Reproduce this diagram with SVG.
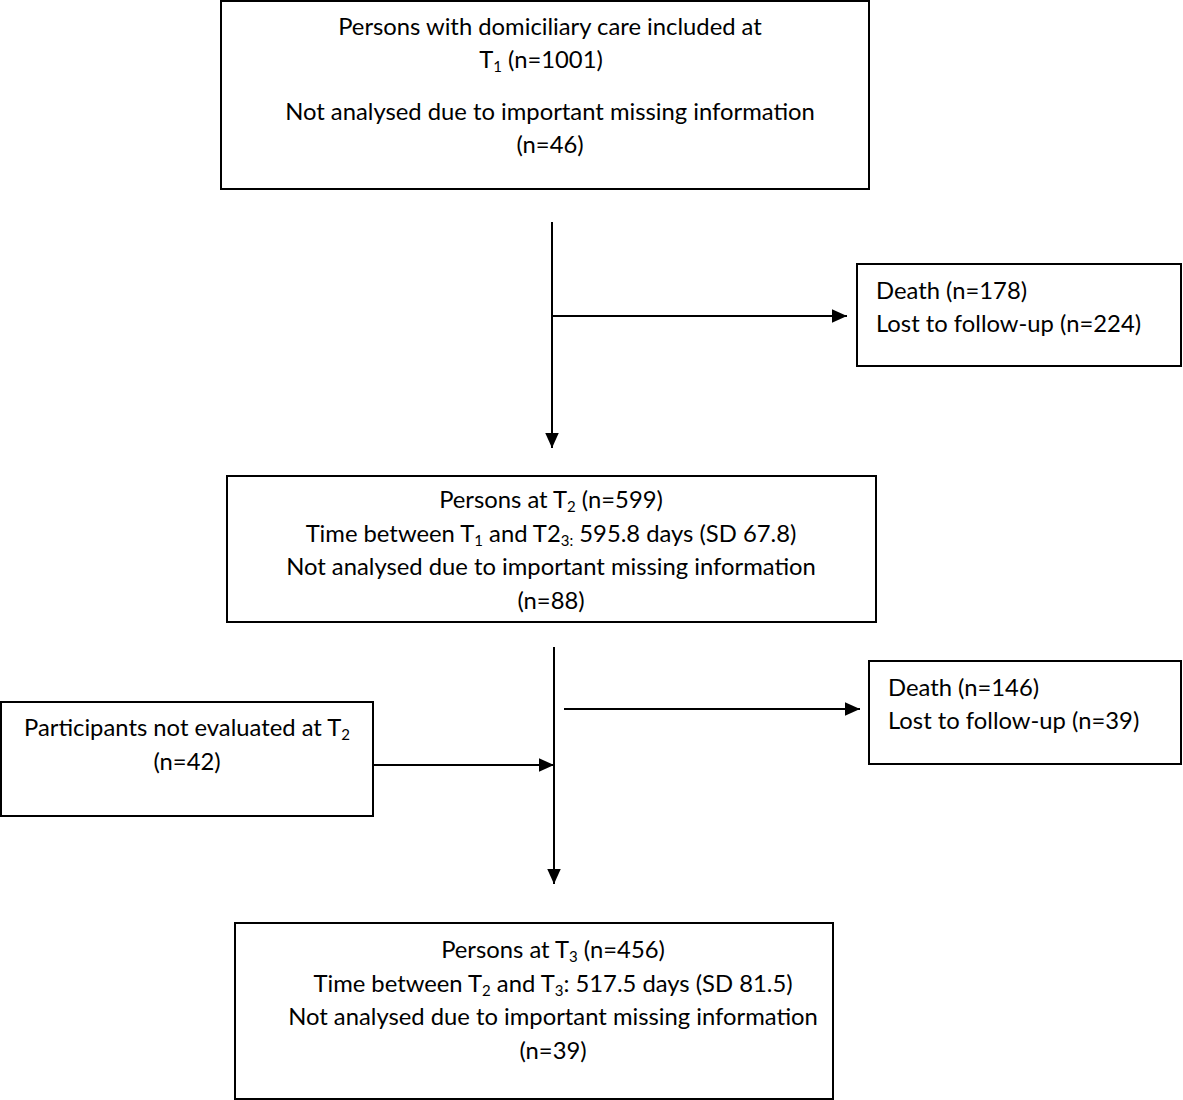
<svg xmlns="http://www.w3.org/2000/svg" width="1183" height="1100" viewBox="0 0 1183 1100">
<style>
rect.box{fill:#fff;stroke:#000;stroke-width:2}
text{font-family:Lato,"Open Sans","Liberation Sans",sans-serif;font-size:23.8px;fill:#000}
text.c{text-anchor:middle}
.sub{font-size:15px}
.conn line{stroke:#000;stroke-width:2}
</style>
<defs>
<marker id="ah" viewBox="0 0 10 10" refX="10" refY="5" markerWidth="15" markerHeight="15" markerUnits="userSpaceOnUse" orient="auto">
<path d="M0,0.5 L10,5 L0,9.5 Z" fill="#000"/>
</marker>
</defs>
<rect width="1183" height="1100" fill="#fff"/>
<g id="n-t1">
<rect class="box" x="221" y="1" width="648" height="188"/>
<text class="c" x="550" y="35">Persons with domiciliary care included at</text>
<text class="c" x="541" y="68">T<tspan class="sub" dy="4">1</tspan><tspan dy="-4"> (n=1001)</tspan></text>
<text class="c" x="550" y="120">Not analysed due to important missing information</text>
<text class="c" x="550" y="153">(n=46)</text>
</g>
<g id="n-loss1">
<rect class="box" x="857" y="264" width="324" height="102"/>
<text x="876" y="299">Death (n=178)</text>
<text x="876" y="332">Lost to follow-up (n=224)</text>
</g>
<g id="n-t2">
<rect class="box" x="227" y="476" width="649" height="146"/>
<text class="c" x="551" y="508">Persons at T<tspan class="sub" dy="4">2</tspan><tspan dy="-4"> (n=599)</tspan></text>
<text class="c" x="551" y="542">Time between T<tspan class="sub" dy="4">1</tspan><tspan dy="-4"> and T2</tspan><tspan class="sub" dy="4">3:</tspan><tspan dy="-4"> 595.8 days (SD 67.8)</tspan></text>
<text class="c" x="551" y="575">Not analysed due to important missing information</text>
<text class="c" x="551" y="609">(n=88)</text>
</g>
<g id="n-loss2">
<rect class="box" x="869" y="661" width="312" height="103"/>
<text x="888" y="696">Death (n=146)</text>
<text x="888" y="729">Lost to follow-up (n=39)</text>
</g>
<g id="n-noteval">
<rect class="box" x="1" y="702" width="372" height="114"/>
<text class="c" x="187" y="736">Participants not evaluated at T<tspan class="sub" dy="4">2</tspan></text>
<text class="c" x="187" y="770">(n=42)</text>
</g>
<g id="n-t3">
<rect class="box" x="235" y="923" width="598" height="176"/>
<text class="c" x="553" y="958">Persons at T<tspan class="sub" dy="4">3</tspan><tspan dy="-4"> (n=456)</tspan></text>
<text class="c" x="553" y="992">Time between T<tspan class="sub" dy="4">2</tspan><tspan dy="-4"> and T</tspan><tspan class="sub" dy="4">3</tspan><tspan dy="-4">: 517.5 days (SD 81.5)</tspan></text>
<text class="c" x="553" y="1025">Not analysed due to important missing information</text>
<text class="c" x="553" y="1059">(n=39)</text>
</g>
<g class="conn" id="connectors">
<line x1="552" y1="222" x2="552" y2="448" marker-end="url(#ah)"/>
<line x1="552" y1="316" x2="847" y2="316" marker-end="url(#ah)"/>
<line x1="554" y1="647" x2="554" y2="884" marker-end="url(#ah)"/>
<line x1="564" y1="709" x2="860" y2="709" marker-end="url(#ah)"/>
<line x1="373" y1="765" x2="554" y2="765" marker-end="url(#ah)"/>
</g>
</svg>
